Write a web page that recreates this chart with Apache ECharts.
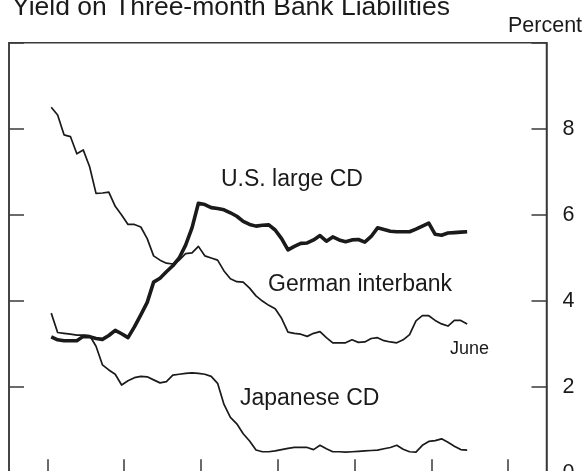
<!DOCTYPE html>
<html>
<head>
<meta charset="utf-8">
<script src="https://cdn.jsdelivr.net/npm/echarts@6/dist/echarts.min.js"></script>
<style>
  html, body { margin: 0; padding: 0; overflow: hidden; background: #fff; }
  #chart { width: 586px; height: 520px; }
</style>
</head>
<body>
<div id="chart"></div>
<script>
// Three-month rates on bank liabilities, monthly, January 1993 to June 1998 (percent)
const START_YEAR = 1993;
const START_MONTH = 1;

const usLargeCD = [
  3.17, 3.10, 3.08, 3.08, 3.08, 3.18, 3.17, 3.13, 3.11, 3.20, 3.32, 3.24,
  3.15, 3.40, 3.68, 3.97, 4.44, 4.53, 4.68, 4.82, 5.00, 5.30, 5.70, 6.27,
  6.24, 6.17, 6.15, 6.12, 6.05, 5.97, 5.85, 5.78, 5.74, 5.76, 5.77, 5.65,
  5.45, 5.19, 5.27, 5.34, 5.35, 5.42, 5.52, 5.39, 5.49, 5.42, 5.38, 5.42,
  5.43, 5.37, 5.50, 5.70, 5.66, 5.62, 5.61, 5.61, 5.61, 5.67, 5.74, 5.81,
  5.55, 5.53, 5.58, 5.59, 5.60, 5.61
];

const germanInterbank = [
  8.50, 8.32, 7.86, 7.82, 7.42, 7.51, 7.12, 6.50, 6.51, 6.53, 6.20, 6.00,
  5.78, 5.78, 5.72, 5.45, 5.05, 4.95, 4.88, 4.86, 4.95, 5.10, 5.12, 5.27,
  5.05, 5.00, 4.95, 4.70, 4.52, 4.45, 4.44, 4.30, 4.12, 4.00, 3.90, 3.82,
  3.60, 3.28, 3.25, 3.23, 3.18, 3.25, 3.29, 3.15, 3.03, 3.03, 3.03, 3.10,
  3.04, 3.05, 3.13, 3.15, 3.08, 3.05, 3.03, 3.10, 3.22, 3.54, 3.66, 3.66,
  3.55, 3.47, 3.42, 3.55, 3.55, 3.47
];

const japaneseCD = [
  3.72, 3.27, 3.25, 3.23, 3.21, 3.21, 3.20, 2.95, 2.52, 2.40, 2.30, 2.05,
  2.15, 2.22, 2.25, 2.24, 2.17, 2.10, 2.13, 2.28, 2.30, 2.32, 2.33, 2.32,
  2.30, 2.25, 2.09, 1.60, 1.30, 1.15, 0.92, 0.75, 0.54, 0.50, 0.50, 0.52,
  0.55, 0.58, 0.60, 0.60, 0.60, 0.55, 0.65, 0.57, 0.50, 0.50, 0.49, 0.50,
  0.51, 0.52, 0.53, 0.54, 0.57, 0.60, 0.65, 0.56, 0.50, 0.49, 0.65, 0.74,
  0.76, 0.80, 0.72, 0.63, 0.55, 0.54
];

// Year boundaries marked along the bottom axis
const yearTicks = [1993, 1994, 1995, 1996, 1997, 1998, 1999];
const yTicks = [0, 2, 4, 6, 8];

// Each monthly observation sits just past the middle of its month
function monthToYear(i) {
  return START_YEAR + (START_MONTH - 1 + i + 0.6) / 12;
}
function toPoints(values) {
  return values.map((v, i) => [monthToYear(i), v]);
}

const INK = '#1a1a1a';
const AXIS = '#3a3a3a';
const FONT = '"Liberation Sans", Arial, Helvetica, sans-serif';

const chart = echarts.init(document.getElementById('chart'), null, { renderer: 'canvas' });

const yAxisBase = {
  type: 'value',
  min: 0,
  max: 10,
  interval: 2,
  splitLine: { show: false },
  axisLine: { show: true, lineStyle: { color: AXIS, width: 1.5 } },
  axisTick: { show: true, inside: true, length: 15, lineStyle: { color: AXIS, width: 1.5 } }
};

chart.setOption({
  animation: false,
  backgroundColor: '#fff',
  grid: {
    left: 9, right: 39.5, top: 42.7, bottom: 46.7,
    show: true, borderColor: AXIS, borderWidth: 1.5, backgroundColor: 'transparent'
  },
  xAxis: {
    type: 'value',
    min: 1992.5,
    max: 1999.5,
    splitLine: { show: false },
    axisLine: { show: true, lineStyle: { color: AXIS, width: 1.5 } },
    axisTick: {
      show: true, inside: true, length: 14,
      customValues: yearTicks,
      lineStyle: { color: AXIS, width: 1.5 }
    },
    axisLabel: { show: false }
  },
  yAxis: [
    Object.assign({}, yAxisBase, {
      position: 'left',
      axisLabel: { show: false }
    }),
    Object.assign({}, yAxisBase, {
      position: 'right',
      axisLabel: {
        show: true,
        margin: 16,
        color: INK,
        fontFamily: FONT,
        fontSize: 21.5,
        formatter: v => (yTicks.indexOf(v) >= 0 ? String(v) : '')
      }
    })
  ],
  series: [
    {
      name: 'U.S. large CD', type: 'line', data: toPoints(usLargeCD),
      showSymbol: false, symbol: 'none', yAxisIndex: 1,
      lineStyle: { color: INK, width: 3.6, join: 'round' }
    },
    {
      name: 'German interbank', type: 'line', data: toPoints(germanInterbank),
      showSymbol: false, symbol: 'none', yAxisIndex: 1,
      lineStyle: { color: INK, width: 1.7, join: 'round' }
    },
    {
      name: 'Japanese CD', type: 'line', data: toPoints(japaneseCD),
      showSymbol: false, symbol: 'none', yAxisIndex: 1,
      lineStyle: { color: INK, width: 1.7, join: 'round' }
    }
  ],
  graphic: [
    { type: 'text', left: 12, top: -6, style: { text: 'Yield on Three-month Bank Liabilities', font: '26.5px ' + FONT, fill: INK } },
    { type: 'text', left: 508, top: 15, style: { text: 'Percent', font: '21.5px ' + FONT, fill: INK } },
    { type: 'text', left: 221, top: 168, style: { text: 'U.S. large CD', font: '23px ' + FONT, fill: INK } },
    { type: 'text', left: 268, top: 273, style: { text: 'German interbank', font: '23px ' + FONT, fill: INK } },
    { type: 'text', left: 240, top: 387, style: { text: 'Japanese CD', font: '23px ' + FONT, fill: INK } },
    { type: 'text', left: 450, top: 340, style: { text: 'June', font: '18px ' + FONT, fill: INK } }
  ]
});
</script>
</body>
</html>
